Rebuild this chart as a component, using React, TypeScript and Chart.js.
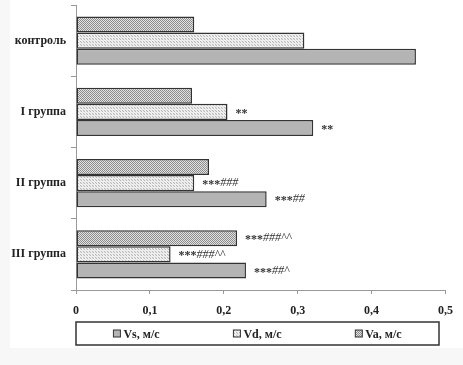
import React, { useEffect, useRef } from 'react';
import { Chart, registerables } from 'chart.js';

Chart.register(...registerables);

const categories = ['контроль', 'I группа', 'II группа', 'III группа'];
const seriesNames = ['Va, м/с', 'Vd, м/с', 'Vs, м/с'];
const vaValues = [0.16, 0.157, 0.18, 0.218];
const vdValues = [0.309, 0.205, 0.16, 0.128];
const vsValues = [0.46, 0.321, 0.258, 0.23];
const vaMarks = ['', '', '', '***###^^'];
const vdMarks = ['', '**', '***###', '***###^^'];
const vsMarks = ['', '**', '***##', '***##^'];
const legendOrder = ['Vs, м/с', 'Vd, м/с', 'Va, м/с'];

const SERIF = '"Liberation Serif", "Times New Roman", serif';

function makePattern(cells: string[][]): CanvasPattern | string {
  const c = document.createElement('canvas');
  c.height = cells.length;
  c.width = cells[0].length;
  const ctx = c.getContext('2d')!;
  cells.forEach((row, y) => row.forEach((col, x) => {
    ctx.fillStyle = col;
    ctx.fillRect(x, y, 1, 1);
  }));
  const main = document.createElement('canvas').getContext('2d')!;
  return main.createPattern(c, 'repeat') || cells[0][0];
}

export default function App() {
  const ref = useRef<HTMLCanvasElement>(null);

  useEffect(() => {
    document.body.style.margin = '0';
    document.body.style.background = '#f7f7f7';
    const canvas = ref.current!;
    const vaFill = makePattern([
      ['#8c8c8c', '#e2e2e2'],
      ['#e2e2e2', '#8c8c8c'],
    ]);
    const vdFill = makePattern([
      ['#b8b8b8', '#f2f2f2', '#e4e4e4'],
      ['#f2f2f2', '#e4e4e4', '#f2f2f2'],
      ['#e4e4e4', '#f2f2f2', '#b8b8b8'],
    ]);
    const vsFill = '#b4b4b4';
    const fills = [vaFill, vdFill, vsFill];
    const marks = [vaMarks, vdMarks, vsMarks];

    const bgPlugin = {
      id: 'bg',
      beforeDraw(chart: any) {
        const ctx = chart.ctx;
        ctx.save();
        ctx.fillStyle = '#f7f7f7';
        ctx.fillRect(0, 0, chart.width, chart.height);
        ctx.fillStyle = '#ffffff';
        ctx.fillRect(10, 0, chart.width - 10, 348);
        ctx.restore();
      },
    };

    const marksPlugin = {
      id: 'marks',
      afterDatasetsDraw(chart: any) {
        const ctx = chart.ctx;
        ctx.save();
        ctx.textBaseline = 'middle';
        ctx.fillStyle = '#333';
        chart.data.datasets.forEach((_: any, i: number) => {
          const meta = chart.getDatasetMeta(i);
          meta.data.forEach((el: any, j: number) => {
            const m = marks[i][j];
            if (!m) return;
            const stars = (m.match(/^\*+/) || [''])[0];
            const rest = m.slice(stars.length);
            let x = el.x + 8;
            ctx.font = `bold 12px ${SERIF}`;
            ctx.fillText(stars, x, el.y + 2);
            x += ctx.measureText(stars).width;
            ctx.font = `italic 12px ${SERIF}`;
            ctx.fillText(rest, x, el.y);
          });
        });
        ctx.restore();
      },
    };

    const legendPlugin = {
      id: 'boxLegend',
      afterDraw(chart: any) {
        const ctx = chart.ctx;
        const left = chart.chartArea.left;
        const right = 439;
        const top = 322;
        const bottom = 345;
        ctx.save();
        ctx.strokeStyle = '#333';
        ctx.lineWidth = 1.5;
        ctx.strokeRect(left, top, right - left, bottom - top);
        const sec = (right - left) / legendOrder.length;
        ctx.font = `bold 12px ${SERIF}`;
        ctx.textBaseline = 'middle';
        legendOrder.forEach((name, k) => {
          const di = seriesNames.indexOf(name);
          const tw = ctx.measureText(name).width;
          const box = 7;
          const gap = 3;
          const total = box + gap + tw;
          const cx = left + sec * (k + 0.5);
          const x0 = cx - total / 2;
          const cy = (top + bottom) / 2;
          ctx.fillStyle = fills[di] as any;
          ctx.fillRect(x0, cy - box / 2, box, box);
          ctx.lineWidth = 1;
          ctx.strokeStyle = '#333';
          ctx.strokeRect(x0, cy - box / 2, box, box);
          ctx.fillStyle = '#222';
          ctx.fillText(name, x0 + box + gap, cy + 1);
        });
        ctx.restore();
      },
    };

    const chart = new Chart(canvas, {
      type: 'bar',
      data: {
        labels: categories,
        datasets: [vaValues, vdValues, vsValues].map((vals, i) => ({
          label: seriesNames[i],
          data: vals,
          backgroundColor: fills[i] as any,
          borderColor: '#333',
          borderWidth: 1.5,
          borderSkipped: false,
          categoryPercentage: 0.68,
          barPercentage: 1.0,
        })),
      },
      options: {
        indexAxis: 'y',
        animation: false,
        responsive: false,
        layout: { padding: { top: 5, right: 13, bottom: 45, left: 0 } },
        plugins: {
          legend: { display: false },
          tooltip: { enabled: false },
        },
        scales: {
          x: {
            min: 0,
            max: 0.5,
            ticks: {
              stepSize: 0.1,
              color: '#222',
              padding: 10,
              font: { family: SERIF, size: 12, weight: 'bold' },
              callback: (v: any) => {
                const n = Math.round(Number(v) * 10) / 10;
                return String(n).replace('.', ',');
              },
            },
            grid: { drawOnChartArea: false, tickLength: 4, color: '#999' },
            border: { color: '#999', width: 1 },
            afterFit: (s: any) => { s.height = 30; },
          },
          y: {
            ticks: {
              color: '#222',
              padding: 5,
              font: { family: SERIF, size: 12, weight: 'bold' },
            },
            grid: { drawOnChartArea: false, tickLength: 5, color: '#999', offset: true },
            border: { color: '#999', width: 1 },
            afterFit: (s: any) => { s.width = 76; s.paddingTop = 0; s.paddingBottom = 0; },
          },
        },
      },
      plugins: [bgPlugin, marksPlugin, legendPlugin],
    } as any);
    return () => chart.destroy();
  }, []);

  return (
    <div style={{ width: 463, height: 365 }}>
      <canvas ref={ref} width={463} height={365} style={{ display: 'block' }} />
    </div>
  );
}
